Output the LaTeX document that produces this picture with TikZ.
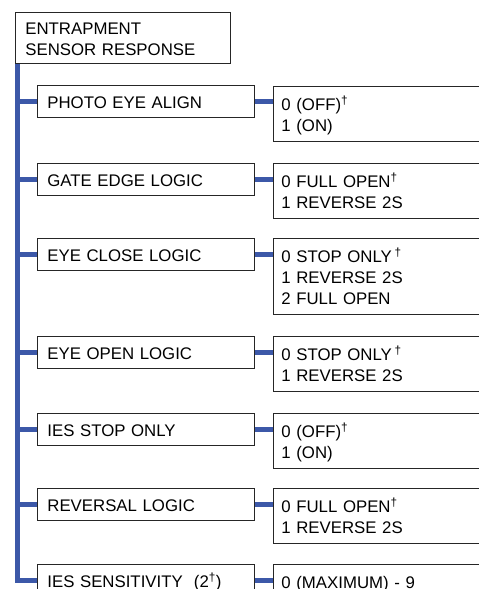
\documentclass[tikz,border=0pt]{standalone}
\usepackage{fontspec}
\setmainfont{Liberation Sans}
\definecolor{linkblue}{RGB}{60,88,168}
\newcommand{\dg}{\textsuperscript{†}}

\begin{document}
\begin{tikzpicture}[
    x=1pt, y=1pt,
    font=\fontsize{16.8}{21}\selectfont,
    menu/.style={rectangle, draw=black!85, line width=0.8pt, anchor=north west,
                 align=left, inner xsep=10pt, inner ysep=7pt,
                 execute at begin node={\rule{0pt}{15pt}},
                 execute at end node={\rule[-1pt]{0pt}{1pt}}},
    item/.style={rectangle, draw=black!85, line width=0.8pt, anchor=north west,
                 minimum width=217pt, text height=14pt, text depth=0pt,
                 inner xsep=10pt, inner ysep=9pt, align=left, text width=197pt},
    vals/.style={rectangle, draw=black!85, line width=0.8pt, anchor=north west,
                 align=left, text width=214pt, inner xsep=8pt, inner ysep=7pt,
                 execute at begin node={\rule{0pt}{17pt}},
                 execute at end node={\rule[-3pt]{0pt}{3pt}}},
    link/.style={draw=linkblue, line width=4.5pt}
]
\useasboundingbox (0,0) rectangle (479,-589);
\clip (0,0) rectangle (479,-589);

\node[menu, text width=195pt] (top) at (15,-12) {ENTRAPMENT\\SENSOR RESPONSE};

% left column
\node[item] (l1) at (37,-85)  {PHOTO EYE ALIGN};
\node[item] (l2) at (37,-163) {GATE EDGE LOGIC};
\node[item] (l3) at (37,-238) {EYE CLOSE LOGIC};
\node[item] (l4) at (37,-336) {EYE OPEN LOGIC};
\node[item] (l5) at (37,-413) {IES STOP ONLY};
\node[item] (l6) at (37,-488) {REVERSAL LOGIC};
\node[item] (l7) at (37,-564) {IES SENSITIVITY\ \ (2\dg)};

% right column
\node[vals] (r1) at (273,-86)  {0 (OFF)\dg\\1 (ON)};
\node[vals] (r2) at (273,-163) {0 FULL OPEN\dg\\1 REVERSE 2S};
\node[vals] (r3) at (273,-238) {0 STOP ONLY\,\dg\\1 REVERSE 2S\\2 FULL OPEN};
\node[vals] (r4) at (273,-336) {0 STOP ONLY\,\dg\\1 REVERSE 2S};
\node[vals] (r5) at (273,-413) {0 (OFF)\dg\\1 (ON)};
\node[vals] (r6) at (273,-488) {0 FULL OPEN\dg\\1 REVERSE 2S};
\node[vals] (r7) at (273,-564) {0 (MAXIMUM) - 9};

% connectors
\coordinate (trunk) at ([xshift=2.5pt]top.south west);
\draw[link] (trunk) |- (l7.west);
\foreach \i in {1,...,6}
    \draw[link] (l\i.west -| trunk) -- (l\i.west);
\foreach \i in {1,...,7}
    \draw[link] (l\i.east) -- (l\i.east -| r\i.west);
\end{tikzpicture}
\end{document}
